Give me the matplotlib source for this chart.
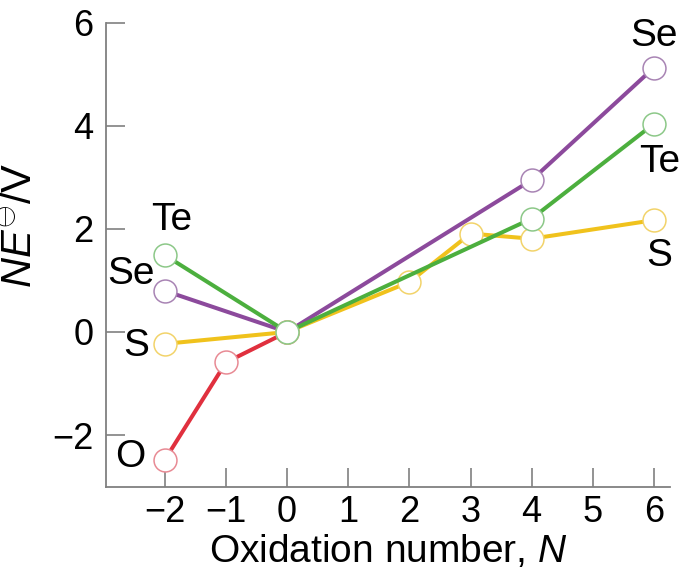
import matplotlib
matplotlib.use("Agg")
from matplotlib import pyplot as plt

plt.rcParams['font.family'] = ['Liberation Sans', 'DejaVu Sans']
plt.rcParams['mathtext.fontset'] = 'custom'
plt.rcParams['mathtext.rm'] = 'Liberation Sans'
plt.rcParams['mathtext.it'] = 'Liberation Sans:italic'

# oxidation numbers and N*E values (V) for each element
o_x = [-2, -1, 0]
o_y = [-2.48, -0.59, 0]
s_x = [-2, 0, 2, 3, 4, 6]
s_y = [-0.23, 0, 0.97, 1.91, 1.81, 2.17]
se_x = [-2, 0, 4, 6]
se_y = [0.80, 0, 2.95, 5.13]
te_x = [-2, 0, 4, 6]
te_y = [1.49, 0, 2.20, 4.04]

x_ticks = [-2, -1, 0, 1, 2, 3, 4, 5, 6]
y_ticks = [-2, 0, 2, 4, 6]

fig = plt.figure(figsize=(6.87, 5.71), dpi=100)
ax = fig.add_axes([0.154, 0.147, 0.821, 0.813])

series = [
    (o_x, o_y, "#e0303e", "#e88a94"),
    (se_x, se_y, "#8c4a9c", "#a884b4"),
    (s_x, s_y, "#f0c21c", "#f2d36a"),
    (te_x, te_y, "#4caf3e", "#8cc888"),
]
for xs, ys, col, edge in series:
    ax.plot(xs, ys, color=col, lw=2.9, marker="o", ms=16.5,
            mfc="white", mec=edge, mew=1.1)

# element labels
labels = [
    ("Te", -1.89, 2.17), ("Se", -2.56, 1.13), ("S", -2.47, -0.27),
    ("O", -2.57, -2.43), ("Se", 6.0, 5.75), ("Te", 6.1, 3.3),
    ("S", 6.08, 1.48),
]
for txt, x, y in labels:
    ax.text(x, y, txt, fontsize=28, ha="center", va="center")

ax.set_xlim(-2.966, 6.26)
ax.set_ylim(-3.01, 6)
ax.set_xticks(x_ticks)
ax.set_yticks(y_ticks)

for side in ["top", "right"]:
    ax.spines[side].set_visible(False)
for side in ["left", "bottom"]:
    ax.spines[side].set_color("#808080")
    ax.spines[side].set_linewidth(1.3)

ax.tick_params(direction="in", length=14, width=1.2, color="#808080",
               labelsize=26, pad=6)
ax.tick_params(axis="y", pad=9)

ax.set_xlabel("Oxidation number, $\\mathit{N}$", fontsize=28, labelpad=2)
ax.set_ylabel("$\\mathit{NE}^{\\ominus}$/V", fontsize=30)
ax.yaxis.set_label_coords(-0.115, 0.565)

fig.savefig("out.png", dpi=100)
